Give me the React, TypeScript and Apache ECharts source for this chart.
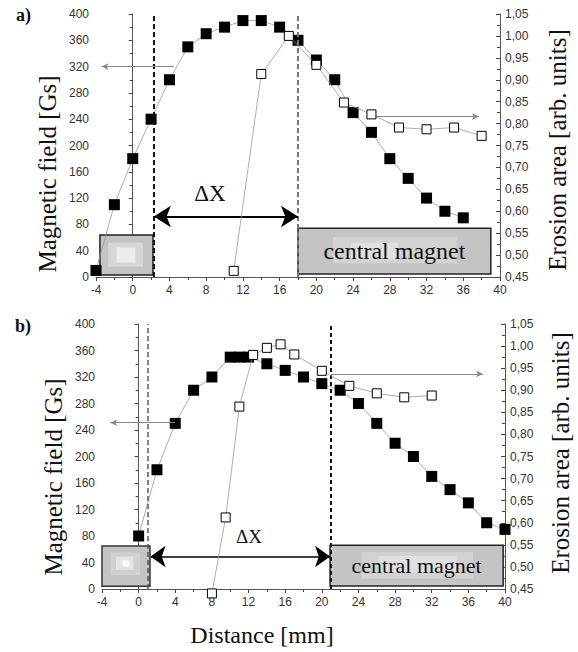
import React, { useEffect, useRef } from "react";
import * as echarts from "echarts";

// ---- data ----
const topFieldX = [-4, -2, 0, 2, 4, 6, 8, 10, 12, 14, 16, 18, 20, 22, 24, 26, 28, 30, 32, 34, 36];
const topFieldY = [10, 110, 180, 240, 300, 350, 370, 380, 390, 390, 380, 360, 330, 300, 250, 220, 180, 150, 120, 100, 90];
const topErosionX = [11, 14, 17, 20, 23, 26, 29, 32, 35, 38];
const topErosionY = [0.464, 0.913, 1.0, 0.934, 0.848, 0.821, 0.791, 0.787, 0.791, 0.772];

const botFieldX = [0, 2, 4, 6, 8, 10, 11, 12, 14, 16, 18, 20, 22, 24, 26, 28, 30, 32, 34, 36, 38, 40];
const botFieldY = [80, 180, 250, 300, 320, 350, 350, 350, 340, 330, 320, 310, 300, 280, 250, 220, 200, 170, 150, 130, 100, 90];
const botErosionX = [8, 9.5, 11, 12.5, 14, 15.5, 17, 20, 23, 26, 29, 32];
const botErosionY = [0.44, 0.612, 0.863, 0.98, 0.996, 1.004, 0.981, 0.944, 0.91, 0.893, 0.884, 0.888];

const xTickInterval = 4;
const fieldTickInterval = 40;
const erosionTickInterval = 0.05;

const serif = "'Liberation Serif', 'DejaVu Serif', serif";
const sans = "'Liberation Sans', Arial, sans-serif";

const pairs = (xs: number[], ys: number[]) => xs.map((x, i) => [x, ys[i]]);

const labelStyle = { fontFamily: sans, fontSize: 12, color: "#333" };

function xAxisFor(gridIndex: number) {
  return {
    type: "value",
    gridIndex,
    min: -4,
    max: 40,
    interval: xTickInterval,
    axisLine: { show: true, onZero: false, lineStyle: { color: "#555", width: 1 } },
    axisTick: { show: true, length: 4, lineStyle: { color: "#444" } },
    minorTick: { show: true, splitNumber: 2, length: 3, lineStyle: { color: "#444" } },
    splitLine: { show: false },
    axisLabel: { ...labelStyle, margin: 7 },
  };
}
function leftAxisFor(gridIndex: number) {
  return {
    type: "value",
    gridIndex,
    position: "left",
    min: 0,
    max: 400,
    interval: fieldTickInterval,
    axisLine: { show: true, lineStyle: { color: "#555", width: 1 } },
    axisTick: { show: true, length: 4, lineStyle: { color: "#444" } },
    minorTick: { show: true, splitNumber: 2, length: 3, lineStyle: { color: "#444" } },
    splitLine: { show: false },
    axisLabel: { ...labelStyle, margin: 7 },
  };
}
function rightAxisFor(gridIndex: number) {
  return {
    type: "value",
    gridIndex,
    position: "right",
    min: 0.45,
    max: 1.05,
    interval: erosionTickInterval,
    axisLine: { show: true, lineStyle: { color: "#555", width: 1 } },
    axisTick: { show: true, inside: true, length: 4, lineStyle: { color: "#444" } },
    minorTick: { show: true, splitNumber: 2, length: 3, lineStyle: { color: "#444" } },
    splitLine: { show: false },
    axisLabel: {
      ...labelStyle,
      margin: 5,
      formatter: (v: number) => v.toFixed(2).replace(".", ","),
    },
  };
}

function box(x1: number, y1: number, x2: number, y2: number, color: string, border?: string, bw = 0) {
  return [
    { coord: [x1, y1], itemStyle: { color, borderColor: border || color, borderWidth: bw } },
    { coord: [x2, y2] },
  ];
}

function fieldSeries(xi: number, yi: number, xs: number[], ys: number[]) {
  return {
    type: "line",
    xAxisIndex: xi,
    yAxisIndex: yi,
    data: pairs(xs, ys),
    symbol: "rect",
    symbolSize: 11,
    clip: false,
    z: 4,
    itemStyle: { color: "#000" },
    lineStyle: { color: "#999", width: 0.8 },
  };
}
function erosionSeries(xi: number, yi: number, xs: number[], ys: number[]) {
  return {
    type: "line",
    xAxisIndex: xi,
    yAxisIndex: yi,
    data: pairs(xs, ys),
    symbol: "rect",
    symbolSize: 9,
    clip: false,
    z: 5,
    itemStyle: { color: "#fff", borderColor: "#000", borderWidth: 1 },
    lineStyle: { color: "#999", width: 0.8 },
  };
}

function magnetLabel(fontSize: number) {
  return {
    show: true,
    position: "inside",
    formatter: "central magnet",
    fontFamily: serif,
    fontSize,
    color: "#111",
  };
}

export default function App() {
  const ref = useRef<HTMLDivElement>(null);
  useEffect(() => {
    if (!ref.current) return;
    const chart = echarts.init(ref.current, undefined, { renderer: "svg" });
    const thinArrow = { color: "#888", width: 1, type: "solid" };
    const rotTitle = (text: string, x: number, y: number, size: number) => ({
      type: "text",
      x,
      y,
      rotation: Math.PI / 2,
      style: { text, fontFamily: serif, fontSize: size, fill: "#111", align: "center", verticalAlign: "middle" },
    });
    const option: any = {
      animation: false,
      backgroundColor: "#fff",
      grid: [
        { left: 96, top: 14, width: 404, height: 263 },
        { left: 102, top: 324, width: 403, height: 265 },
      ],
      xAxis: [xAxisFor(0), xAxisFor(1)],
      yAxis: [leftAxisFor(0), rightAxisFor(0), leftAxisFor(1), rightAxisFor(1)],
      series: [
        // ---- top panel annotations ----
        {
          type: "line",
          xAxisIndex: 0,
          yAxisIndex: 0,
          data: [],
          markArea: {
            silent: true,
            label: { show: false },
            data: [
              box(-3.57, 64, 2.2, 3, "#c4c4c4", "#222", 1.5),
              box(-2.67, 52, 1.11, 15.6, "#d6d6d6"),
              box(-1.76, 45, 0.29, 22, "#ececec"),
              box(18, 74, 39, 4.6, "#c4c4c4", "#222", 1.5),
              box(21.8, 61, 35.3, 21, "#d2d2d2"),
              box(23.8, 52, 28.9, 27, "#e0e0e0"),
              [
                { coord: [18, 74], itemStyle: { color: "rgba(0,0,0,0)" }, label: magnetLabel(24) },
                { coord: [39, 4.6] },
              ],
            ],
          },
          markLine: {
            silent: true,
            symbol: "none",
            label: { show: false },
            data: [
              { xAxis: 2.3, lineStyle: { color: "#111", width: 2, type: [5, 3] } },
              { xAxis: 18, lineStyle: { color: "#777", width: 2, type: [5, 3] } },
              [
                { coord: [4.5, 320], symbol: "none", lineStyle: thinArrow },
                { coord: [-3.4, 320], symbol: "arrow", symbolSize: [5, 7] },
              ],
              [
                { coord: [2.3, 92], symbol: "arrow", symbolSize: [16, 17], lineStyle: { color: "#000", width: 2, type: "solid" } },
                { coord: [18, 92], symbol: "arrow", symbolSize: [16, 17] },
              ],
            ],
          },
        },
        {
          type: "line",
          xAxisIndex: 0,
          yAxisIndex: 1,
          data: [],
          markLine: {
            silent: true,
            symbol: "none",
            label: { show: false },
            data: [
              [
                { coord: [26.3, 0.816], symbol: "none", lineStyle: thinArrow },
                { coord: [37.7, 0.816], symbol: "arrow", symbolSize: [5, 7] },
              ],
            ],
          },
        },
        fieldSeries(0, 0, topFieldX, topFieldY),
        erosionSeries(0, 1, topErosionX, topErosionY),

        // ---- bottom panel annotations ----
        {
          type: "line",
          xAxisIndex: 1,
          yAxisIndex: 2,
          data: [],
          markArea: {
            silent: true,
            label: { show: false },
            data: [
              box(-4, 65, 1.24, 4, "#c4c4c4", "#333", 1.5),
              box(-3.05, 55, 0.15, 21, "#d0d0d0"),
              box(-2.47, 49, -0.58, 29, "#e4e4e4"),
              box(-1.74, 43, -1.02, 34, "#fafafa"),
              box(20.9, 66, 39.8, 4.5, "#c4c4c4", "#222", 1.5),
              box(24.35, 56, 36.5, 16, "#d2d2d2"),
              box(26.2, 50, 34.7, 24, "#e0e0e0"),
              [
                { coord: [20.9, 66], itemStyle: { color: "rgba(0,0,0,0)" }, label: magnetLabel(22) },
                { coord: [39.8, 4.5] },
              ],
            ],
          },
          markLine: {
            silent: true,
            symbol: "none",
            label: { show: false },
            data: [
              { xAxis: 1.0, lineStyle: { color: "#555", width: 1.5, type: [5, 3] } },
              { xAxis: 21, lineStyle: { color: "#111", width: 2, type: [4, 3] } },
              [
                { coord: [4, 251], symbol: "none", lineStyle: thinArrow },
                { coord: [-3.1, 251], symbol: "arrow", symbolSize: [5, 7] },
              ],
              [
                { coord: [1.3, 49], symbol: "arrow", symbolSize: [16, 15], lineStyle: { color: "#000", width: 1.6, type: "solid" } },
                { coord: [20.9, 49], symbol: "arrow", symbolSize: [16, 15] },
              ],
            ],
          },
        },
        {
          type: "line",
          xAxisIndex: 1,
          yAxisIndex: 3,
          data: [],
          markLine: {
            silent: true,
            symbol: "none",
            label: { show: false },
            data: [
              [
                { coord: [21, 0.937], symbol: "none", lineStyle: thinArrow },
                { coord: [37.6, 0.937], symbol: "arrow", symbolSize: [5, 7] },
              ],
            ],
          },
        },
        fieldSeries(1, 2, botFieldX, botFieldY),
        erosionSeries(1, 3, botErosionX, botErosionY),
      ],
      graphic: [
        { type: "text", x: 16, y: 6, style: { text: "a)", fontFamily: serif, fontSize: 18, fontWeight: "bold", fill: "#111" } },
        { type: "text", x: 15, y: 317, style: { text: "b)", fontFamily: serif, fontSize: 18, fontWeight: "bold", fill: "#111" } },
        rotTitle("Magnetic field [Gs]", 47, 174, 25),
        rotTitle("Erosion area [arb. units]", 557, 150, 25),
        rotTitle("Magnetic field [Gs]", 53, 477, 25),
        rotTitle("Erosion area [arb. units]", 560, 453, 25),
        {
          type: "text", x: 262, y: 635,
          style: { text: "Distance [mm]", fontFamily: serif, fontSize: 24, fill: "#111", align: "center", verticalAlign: "middle" },
        },
        {
          type: "text", x: 210, y: 193,
          style: { text: "ΔX", fontFamily: serif, fontSize: 23, fill: "#111", align: "center", verticalAlign: "middle" },
        },
        {
          type: "text", x: 249, y: 536,
          style: { text: "ΔX", fontFamily: serif, fontSize: 19, fill: "#111", align: "center", verticalAlign: "middle" },
        },
      ],
    };
    chart.setOption(option);
    return () => chart.dispose();
  }, []);
  return (
    <div
      ref={ref}
      style={{ position: "fixed", left: 0, top: 0, width: 578, height: 652, background: "#fff" }}
    />
  );
}
